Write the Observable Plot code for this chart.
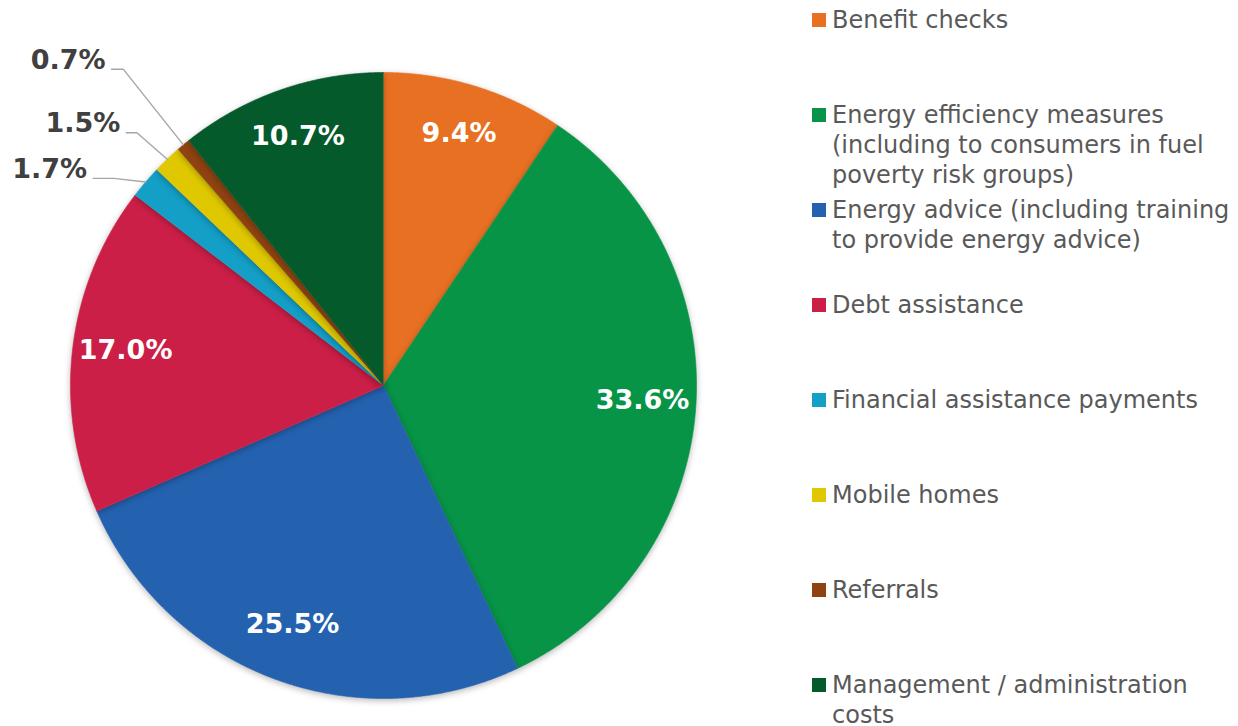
<!DOCTYPE html>
<html>
<head>
<meta charset="utf-8">
<script src="https://cdn.jsdelivr.net/npm/d3@7"></script>
<script src="https://cdn.jsdelivr.net/npm/@observablehq/plot@0.6"></script>
<style>
  html, body { margin: 0; padding: 0; background: #fff; }
  #wrap { position: relative; width: 1238px; height: 726px; overflow: hidden; }
  #chart { position: absolute; left: 0; top: 0; }
  #chart svg .slices { filter: drop-shadow(0px 2px 3px rgba(0,0,0,0.28)); }
  #legend { position: absolute; left: 812px; top: 0; width: 426px;
    font-family: "DejaVu Sans", Verdana, sans-serif; font-size: 24px; color: #595959; }
  .item { position: absolute; left: 0; line-height: 30px; padding-left: 20px; white-space: nowrap; }
  .sw { position: absolute; left: 0; top: 8px; width: 14px; height: 14px; }
</style>
</head>
<body>
<div id="wrap">
  <div id="chart"></div>
  <div id="legend"></div>
</div>
<script>
const categories = [
  "Benefit checks",
  "Energy efficiency measures (including to consumers in fuel poverty risk groups)",
  "Energy advice (including training to provide energy advice)",
  "Debt assistance",
  "Financial assistance payments",
  "Mobile homes",
  "Referrals",
  "Management / administration costs"
];
const values = [9.4, 33.6, 25.5, 17.0, 1.7, 1.5, 0.7, 10.7];
const colors = ["#E87022", "#079447", "#2462B0", "#CC1F47", "#149FC7", "#E0C800", "#8F4311", "#055A2C"];
const legendLines = [
  ["Benefit checks"],
  ["Energy efficiency measures", "(including to consumers in fuel", "poverty risk groups)"],
  ["Energy advice (including training", "to provide energy advice)"],
  ["Debt assistance"],
  ["Financial assistance payments"],
  ["Mobile homes"],
  ["Referrals"],
  ["Management / administration", "costs"]
];

// layout for callout labels of small slices (radius factor, angle shift in degrees, horizontal leader length)
const calloutLayout = {
  "Financial assistance payments": {r: 1.086, da: -3, h: 0.067},
  "Mobile homes": {r: 1.128, da: -0.6, h: 0.034},
  "Referrals": {r: 1.308, da: 0.3, h: 0.038}
};

const total = d3.sum(values);
let cum = 0;
const slices = categories.map((name, i) => {
  const a0 = cum / total * 2 * Math.PI;
  cum += values[i];
  const a1 = cum / total * 2 * Math.PI;
  return {name, value: values[i], color: colors[i], a0, a1, mid: (a0 + a1) / 2};
});

const polar = (a, r) => ({x: r * Math.sin(a), y: r * Math.cos(a)});

// polygons for each slice
const slicePts = [];
for (const s of slices) {
  slicePts.push({name: s.name, ...polar(0, 0)});
  const n = Math.max(4, Math.ceil((s.a1 - s.a0) / (Math.PI / 720)));
  for (let k = 0; k <= n; k++) {
    const a = s.a0 + (s.a1 - s.a0) * k / n;
    slicePts.push({name: s.name, ...polar(a, 1)});
  }
}

const insideLabels = slices.filter(s => s.value >= 5).map(s => ({label: s.value.toFixed(1) + "%", ...polar(s.mid, 0.83)}));

const leaderPts = [];
const outsideLabels = [];
for (const s of slices) {
  const L = calloutLayout[s.name];
  if (!L) continue;
  const e = polar(s.mid, 1.0);
  const b = polar(s.mid + L.da * Math.PI / 180, L.r);
  const h = {x: b.x - L.h, y: b.y};
  leaderPts.push({name: s.name, ...e}, {name: s.name, ...b}, {name: s.name, ...h});
  outsideLabels.push({label: s.value.toFixed(1) + "%", x: h.x, y: h.y});
}

const sliceMarks = slices.map(s => Plot.line(slicePts.filter(p => p.name === s.name), {
  x: "x", y: "y", fill: s.color, stroke: s.color, strokeWidth: 0.6, curve: "linear"
}));

const chart = Plot.plot({
  width: 800,
  height: 726,
  margin: 0,
  style: {fontFamily: "DejaVu Sans, Verdana, sans-serif", background: "transparent"},
  x: {domain: [-1, 1], range: [70, 696], axis: null},
  y: {domain: [-1, 1], range: [698, 72], axis: null},
  marks: [
    ...sliceMarks,
    Plot.line(leaderPts, {x: "x", y: "y", z: "name", stroke: "#A6A6A6", strokeWidth: 1.4}),
    Plot.text(insideLabels, {x: "x", y: "y", text: "label", fill: "#ffffff", fontSize: 27, fontWeight: "bold", fontFamily: "DejaVu Sans", dy: -4}),
    Plot.text(outsideLabels, {x: "x", y: "y", text: "label", fill: "#404040", fontSize: 27, fontWeight: "bold", fontFamily: "DejaVu Sans", textAnchor: "end", dx: -6, dy: -9})
  ]
});
// group slices for shadow
const gs = chart.querySelectorAll("g[aria-label='line']");
for (let i = 0; i < slices.length && i < gs.length; i++) gs[i].classList.add("slices");
document.getElementById("chart").appendChild(chart);

const legend = document.getElementById("legend");
legendLines.forEach((lines, i) => {
  const item = document.createElement("div");
  item.className = "item";
  item.style.top = (5 + 95 * i) + "px";
  const sw = document.createElement("div");
  sw.className = "sw";
  sw.style.background = colors[i];
  item.appendChild(sw);
  item.insertAdjacentHTML("beforeend", lines.map(l => l.replace(/&/g, "&amp;").replace(/</g, "&lt;")).join("<br>"));
  legend.appendChild(item);
});
</script>
</body>
</html>
